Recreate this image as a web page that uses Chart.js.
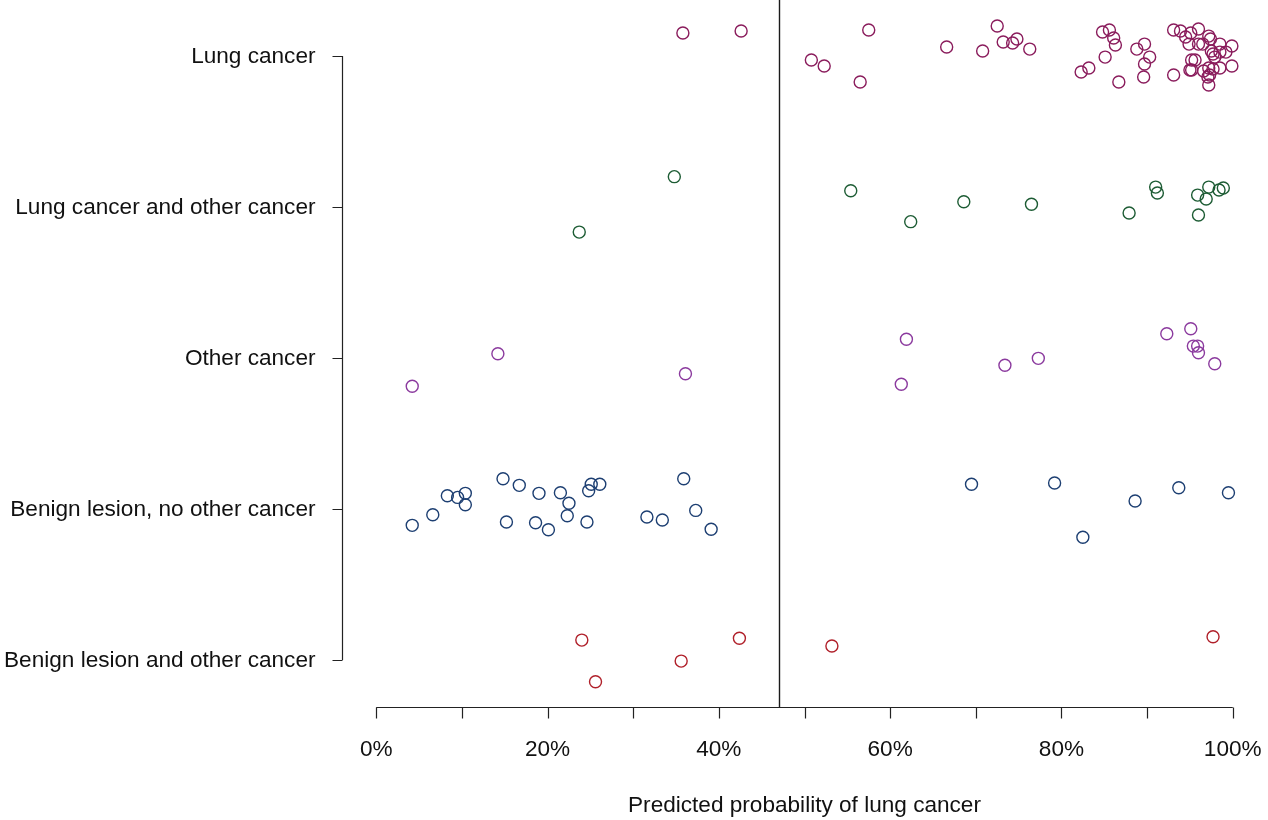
<!DOCTYPE html>
<html>
<head>
<meta charset="utf-8">
<script src="https://cdn.jsdelivr.net/npm/chart.js@4/dist/chart.umd.min.js"></script>
<style>
    html, body { margin: 0; padding: 0; background: #fff; }
    #wrap { width: 1268px; height: 820px; position: relative; }
</style>
</head>
<body>
<div id="wrap"><canvas id="strip"></canvas></div>
<script>
// categories, bottom to top (y value 1..5)
var categories = ["Benign lesion and other cancer", "Benign lesion, no other cancer", "Other cancer", "Lung cancer and other cancer", "Lung cancer"];
var xTicks = [0, 10, 20, 30, 40, 50, 60, 70, 80, 90, 100];
var cutoff = 47;

// predicted probability (%) and jittered row position
var lungX = [35.8, 42.6, 57.5, 50.8, 52.3, 56.5, 66.6, 72.5, 70.8, 73.2, 74.3, 74.8, 76.3, 82.3, 83.2, 84.8, 85.6, 86.1, 86.3, 85.1, 86.7, 88.8, 89.7, 90.3, 89.7, 89.6, 93.1, 93.9, 93.1, 94.5, 95.1, 96.0, 94.9, 96.0, 96.5, 97.2, 97.4, 98.5, 99.9, 97.5, 97.7, 97.9, 98.5, 99.2, 95.2, 95.6, 95.0, 95.2, 96.6, 97.2, 97.7, 98.5, 99.9, 97.1, 97.3, 97.2];
var lungY = [5.152, 5.166, 5.172, 4.974, 4.934, 4.828, 5.060, 5.199, 5.033, 5.093, 5.086, 5.113, 5.046, 4.894, 4.921, 5.159, 5.172, 5.119, 5.073, 4.993, 4.828, 5.046, 5.079, 4.993, 4.947, 4.861, 5.172, 5.166, 4.874, 5.126, 5.152, 5.179, 5.079, 5.079, 5.079, 5.132, 5.113, 5.079, 5.066, 5.033, 5.013, 4.993, 5.026, 5.026, 4.974, 4.974, 4.907, 4.907, 4.901, 4.921, 4.914, 4.921, 4.934, 4.861, 4.874, 4.808];

var lungOtherX = [34.8, 23.7, 55.4, 62.4, 68.6, 76.5, 87.9, 91.0, 91.2, 95.9, 96.9, 97.2, 96.0, 98.4, 98.9];
var lungOtherY = [4.201, 3.834, 4.108, 3.903, 4.035, 4.018, 3.960, 4.132, 4.093, 4.079, 4.053, 4.132, 3.947, 4.113, 4.126];

var otherX = [4.2, 14.2, 36.1, 61.9, 61.3, 73.4, 77.3, 92.3, 95.1, 95.4, 95.9, 96.0, 97.9];
var otherY = [2.813, 3.028, 2.896, 3.124, 2.826, 2.952, 2.998, 3.161, 3.194, 3.079, 3.079, 3.035, 2.962];

var benignX = [4.2, 6.6, 8.3, 9.5, 10.4, 10.4, 14.8, 16.7, 15.2, 19.0, 18.6, 20.1, 21.5, 22.5, 22.3, 24.6, 24.8, 25.1, 26.1, 31.6, 33.4, 35.9, 37.3, 39.1, 69.5, 79.2, 88.6, 93.7, 99.5, 82.5];
var benignY = [1.892, 1.962, 2.088, 2.077, 2.104, 2.028, 2.201, 2.157, 1.914, 2.104, 1.909, 1.863, 2.108, 2.038, 1.956, 1.914, 2.121, 2.164, 2.164, 1.947, 1.927, 2.201, 1.991, 1.866, 2.164, 2.172, 2.053, 2.141, 2.108, 1.813];

var benignOtherX = [24.0, 42.4, 35.6, 25.6, 53.2, 97.7];
var benignOtherY = [1.132, 1.144, 0.993, 0.856, 1.093, 1.154];

function pts(xs, ys) {
    return xs.map(function(v, i) { return { x: v, y: ys[i] }; });
}

function series(label, xs, ys, color) {
    return {
        label: label,
        data: pts(xs, ys),
        borderColor: color,
        backgroundColor: "rgba(0,0,0,0)",
        pointRadius: 6,
        pointHoverRadius: 6,
        pointBorderWidth: 1.4
    };
}

var font = "22.6px 'Liberation Sans', Arial, sans-serif";

// R style axes, cutoff line and labels
var rAxes = {
    id: "rAxes",
    afterDatasetsDraw: function(chart) {
        var c = chart.ctx, xs = chart.scales.x, ys = chart.scales.y, a = chart.chartArea;
        c.save();
        c.strokeStyle = "#1a1a1a";
        c.lineWidth = 1.4;
        var cx = Math.round(xs.getPixelForValue(cutoff)) + 0.5;
        c.beginPath(); c.moveTo(cx, a.top); c.lineTo(cx, a.bottom); c.stroke();

        c.lineWidth = 1.2;
        c.strokeStyle = "#222";
        // x axis
        var by = Math.round(a.bottom) + 0.5;
        c.beginPath();
        c.moveTo(xs.getPixelForValue(xTicks[0]), by);
        c.lineTo(xs.getPixelForValue(xTicks[xTicks.length - 1]), by);
        xTicks.forEach(function(t) {
            var px = Math.round(xs.getPixelForValue(t)) + 0.5;
            c.moveTo(px, by); c.lineTo(px, by + 11);
        });
        c.stroke();
        c.fillStyle = "#111";
        c.font = font;
        c.textAlign = "center";
        c.textBaseline = "middle";
        xTicks.forEach(function(t, i) {
            if (i % 2 === 0) c.fillText(t + "%", xs.getPixelForValue(t), by + 42);
        });
        c.fillText("Predicted probability of lung cancer", (xs.getPixelForValue(0) + xs.getPixelForValue(100)) / 2, by + 98);

        // y axis
        var lx = Math.round(a.left) + 0.5;
        c.beginPath();
        c.moveTo(lx, ys.getPixelForValue(1));
        c.lineTo(lx, ys.getPixelForValue(categories.length));
        categories.forEach(function(n, i) {
            var py = Math.round(ys.getPixelForValue(i + 1)) + 0.5;
            c.moveTo(lx, py); c.lineTo(lx - 10, py);
        });
        c.stroke();
        c.textAlign = "right";
        categories.forEach(function(n, i) {
            c.fillText(n, lx - 27, ys.getPixelForValue(i + 1) + 1);
        });
        c.restore();
    }
};

var ctx = document.getElementById("strip").getContext("2d");
var myChart = new Chart(ctx, {
    type: "scatter",
    data: {
        datasets: [
            series("Lung cancer", lungX, lungY, "#8a1c5c"),
            series("Lung cancer and other cancer", lungOtherX, lungOtherY, "#1d5c34"),
            series("Other cancer", otherX, otherY, "#8b3a9e"),
            series("Benign lesion, no other cancer", benignX, benignY, "#1d3f72"),
            series("Benign lesion and other cancer", benignOtherX, benignOtherY, "#b0202a")
        ]
    },
    options: {
        responsive: true,
        maintainAspectRatio: false,
        animation: false,
        layout: { autoPadding: false, padding: { left: 342, right: 1, top: 0, bottom: 113 } },
        plugins: { legend: { display: false }, tooltip: { enabled: false } },
        scales: {
            x: { type: "linear", min: -4, max: 104, display: false },
            y: { type: "linear", min: 0.689, max: 5.371, display: false }
        }
    },
    plugins: [rAxes]
});
</script>
</body>
</html>
